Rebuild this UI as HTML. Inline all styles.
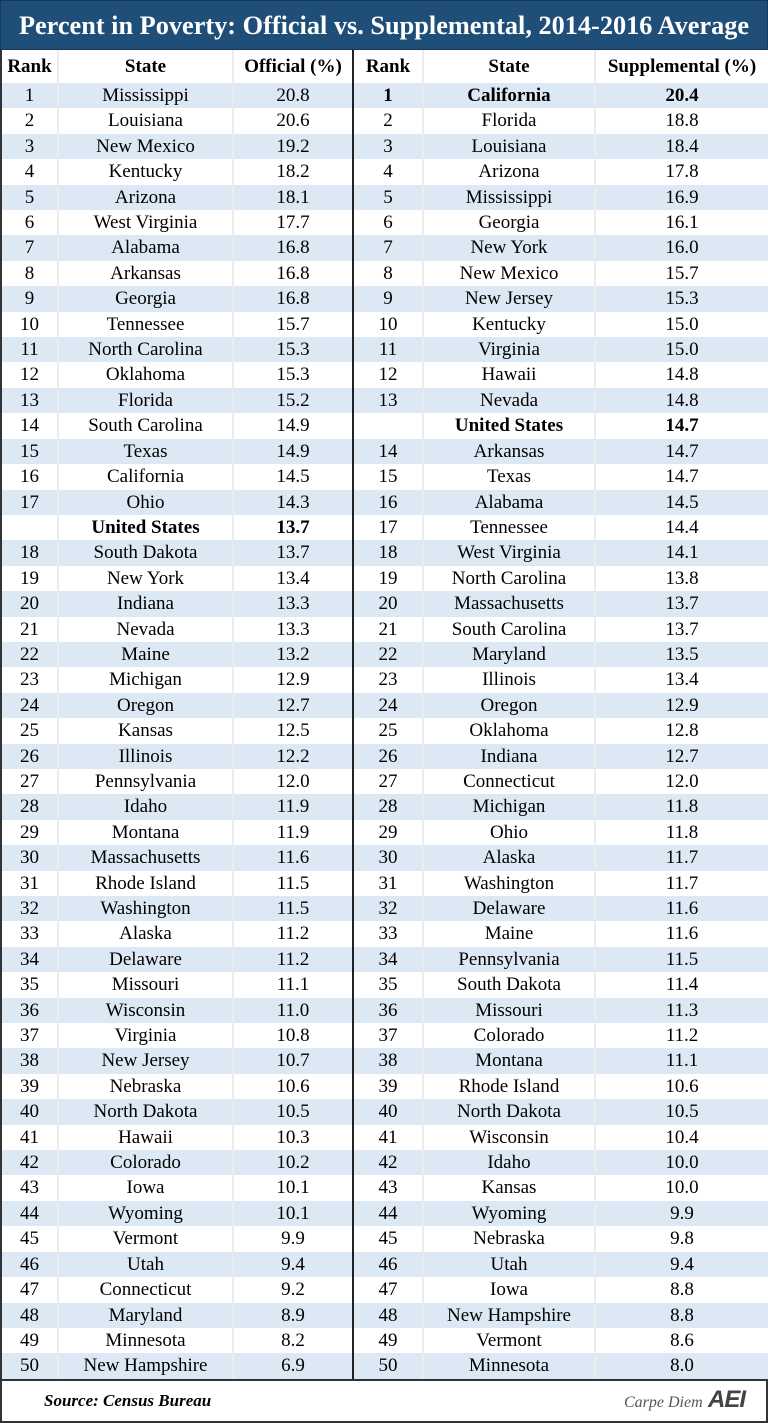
<!DOCTYPE html>
<html><head><meta charset="utf-8"><style>
body{margin:0;width:768px;height:1423px;background:#fff;font-family:"Liberation Serif",serif;overflow:hidden;position:relative}
.title{position:absolute;left:0;top:0;width:766px;height:48px;background:#1f4e79;border:1px solid #16385a;color:#fff;font-weight:bold;font-size:26.3px;text-align:center;line-height:50px;white-space:nowrap}
table{position:absolute;left:0;top:50px;border-collapse:collapse;table-layout:fixed;width:768px;font-size:19px;border-left:2px solid #333;border-right:2px solid #333}
td{padding:0;text-align:center;height:25.4px;line-height:25.4px;border-left:2px solid #ececec;white-space:nowrap;overflow:hidden}
tr.h td{height:33px;line-height:33px;font-weight:bold;font-size:19px}
tr:nth-child(even) td{background:#dce8f4}
td.d{border-left:2px solid #222}
td:first-child{border-left:none}
.b{font-weight:bold}
.foot{position:absolute;left:0;top:1379px;width:764px;height:40px;border:2px solid #333;background:#fff}
.src{position:absolute;left:42px;top:10px;font-style:italic;font-weight:bold;font-size:17px}
.cd{position:absolute;left:622px;top:13px;font-style:italic;font-size:16px;color:#555}
.aei{position:absolute;left:706px;top:5px;font-style:italic;font-weight:bold;font-size:24px;color:#444;font-family:"Liberation Sans",sans-serif;letter-spacing:-1px}
</style></head><body>
<div class="title">Percent in Poverty: Official vs. Supplemental, 2014-2016 Average</div>
<table>
<colgroup><col style="width:57px"><col style="width:175px"><col style="width:120px"><col style="width:70px"><col style="width:172px"><col style="width:174px"></colgroup>
<tr class="h"><td>Rank</td><td>State</td><td>Official (%)</td><td class="d">Rank</td><td>State</td><td>Supplemental (%)</td></tr>
<tr><td>1</td><td>Mississippi</td><td>20.8</td><td class="d b">1</td><td class="b">California</td><td class="b">20.4</td></tr>
<tr><td>2</td><td>Louisiana</td><td>20.6</td><td class="d">2</td><td>Florida</td><td>18.8</td></tr>
<tr><td>3</td><td>New Mexico</td><td>19.2</td><td class="d">3</td><td>Louisiana</td><td>18.4</td></tr>
<tr><td>4</td><td>Kentucky</td><td>18.2</td><td class="d">4</td><td>Arizona</td><td>17.8</td></tr>
<tr><td>5</td><td>Arizona</td><td>18.1</td><td class="d">5</td><td>Mississippi</td><td>16.9</td></tr>
<tr><td>6</td><td>West Virginia</td><td>17.7</td><td class="d">6</td><td>Georgia</td><td>16.1</td></tr>
<tr><td>7</td><td>Alabama</td><td>16.8</td><td class="d">7</td><td>New York</td><td>16.0</td></tr>
<tr><td>8</td><td>Arkansas</td><td>16.8</td><td class="d">8</td><td>New Mexico</td><td>15.7</td></tr>
<tr><td>9</td><td>Georgia</td><td>16.8</td><td class="d">9</td><td>New Jersey</td><td>15.3</td></tr>
<tr><td>10</td><td>Tennessee</td><td>15.7</td><td class="d">10</td><td>Kentucky</td><td>15.0</td></tr>
<tr><td>11</td><td>North Carolina</td><td>15.3</td><td class="d">11</td><td>Virginia</td><td>15.0</td></tr>
<tr><td>12</td><td>Oklahoma</td><td>15.3</td><td class="d">12</td><td>Hawaii</td><td>14.8</td></tr>
<tr><td>13</td><td>Florida</td><td>15.2</td><td class="d">13</td><td>Nevada</td><td>14.8</td></tr>
<tr><td>14</td><td>South Carolina</td><td>14.9</td><td class="d"></td><td class="b">United States</td><td class="b">14.7</td></tr>
<tr><td>15</td><td>Texas</td><td>14.9</td><td class="d">14</td><td>Arkansas</td><td>14.7</td></tr>
<tr><td>16</td><td>California</td><td>14.5</td><td class="d">15</td><td>Texas</td><td>14.7</td></tr>
<tr><td>17</td><td>Ohio</td><td>14.3</td><td class="d">16</td><td>Alabama</td><td>14.5</td></tr>
<tr><td></td><td class="b">United States</td><td class="b">13.7</td><td class="d">17</td><td>Tennessee</td><td>14.4</td></tr>
<tr><td>18</td><td>South Dakota</td><td>13.7</td><td class="d">18</td><td>West Virginia</td><td>14.1</td></tr>
<tr><td>19</td><td>New York</td><td>13.4</td><td class="d">19</td><td>North Carolina</td><td>13.8</td></tr>
<tr><td>20</td><td>Indiana</td><td>13.3</td><td class="d">20</td><td>Massachusetts</td><td>13.7</td></tr>
<tr><td>21</td><td>Nevada</td><td>13.3</td><td class="d">21</td><td>South Carolina</td><td>13.7</td></tr>
<tr><td>22</td><td>Maine</td><td>13.2</td><td class="d">22</td><td>Maryland</td><td>13.5</td></tr>
<tr><td>23</td><td>Michigan</td><td>12.9</td><td class="d">23</td><td>Illinois</td><td>13.4</td></tr>
<tr><td>24</td><td>Oregon</td><td>12.7</td><td class="d">24</td><td>Oregon</td><td>12.9</td></tr>
<tr><td>25</td><td>Kansas</td><td>12.5</td><td class="d">25</td><td>Oklahoma</td><td>12.8</td></tr>
<tr><td>26</td><td>Illinois</td><td>12.2</td><td class="d">26</td><td>Indiana</td><td>12.7</td></tr>
<tr><td>27</td><td>Pennsylvania</td><td>12.0</td><td class="d">27</td><td>Connecticut</td><td>12.0</td></tr>
<tr><td>28</td><td>Idaho</td><td>11.9</td><td class="d">28</td><td>Michigan</td><td>11.8</td></tr>
<tr><td>29</td><td>Montana</td><td>11.9</td><td class="d">29</td><td>Ohio</td><td>11.8</td></tr>
<tr><td>30</td><td>Massachusetts</td><td>11.6</td><td class="d">30</td><td>Alaska</td><td>11.7</td></tr>
<tr><td>31</td><td>Rhode Island</td><td>11.5</td><td class="d">31</td><td>Washington</td><td>11.7</td></tr>
<tr><td>32</td><td>Washington</td><td>11.5</td><td class="d">32</td><td>Delaware</td><td>11.6</td></tr>
<tr><td>33</td><td>Alaska</td><td>11.2</td><td class="d">33</td><td>Maine</td><td>11.6</td></tr>
<tr><td>34</td><td>Delaware</td><td>11.2</td><td class="d">34</td><td>Pennsylvania</td><td>11.5</td></tr>
<tr><td>35</td><td>Missouri</td><td>11.1</td><td class="d">35</td><td>South Dakota</td><td>11.4</td></tr>
<tr><td>36</td><td>Wisconsin</td><td>11.0</td><td class="d">36</td><td>Missouri</td><td>11.3</td></tr>
<tr><td>37</td><td>Virginia</td><td>10.8</td><td class="d">37</td><td>Colorado</td><td>11.2</td></tr>
<tr><td>38</td><td>New Jersey</td><td>10.7</td><td class="d">38</td><td>Montana</td><td>11.1</td></tr>
<tr><td>39</td><td>Nebraska</td><td>10.6</td><td class="d">39</td><td>Rhode Island</td><td>10.6</td></tr>
<tr><td>40</td><td>North Dakota</td><td>10.5</td><td class="d">40</td><td>North Dakota</td><td>10.5</td></tr>
<tr><td>41</td><td>Hawaii</td><td>10.3</td><td class="d">41</td><td>Wisconsin</td><td>10.4</td></tr>
<tr><td>42</td><td>Colorado</td><td>10.2</td><td class="d">42</td><td>Idaho</td><td>10.0</td></tr>
<tr><td>43</td><td>Iowa</td><td>10.1</td><td class="d">43</td><td>Kansas</td><td>10.0</td></tr>
<tr><td>44</td><td>Wyoming</td><td>10.1</td><td class="d">44</td><td>Wyoming</td><td>9.9</td></tr>
<tr><td>45</td><td>Vermont</td><td>9.9</td><td class="d">45</td><td>Nebraska</td><td>9.8</td></tr>
<tr><td>46</td><td>Utah</td><td>9.4</td><td class="d">46</td><td>Utah</td><td>9.4</td></tr>
<tr><td>47</td><td>Connecticut</td><td>9.2</td><td class="d">47</td><td>Iowa</td><td>8.8</td></tr>
<tr><td>48</td><td>Maryland</td><td>8.9</td><td class="d">48</td><td>New Hampshire</td><td>8.8</td></tr>
<tr><td>49</td><td>Minnesota</td><td>8.2</td><td class="d">49</td><td>Vermont</td><td>8.6</td></tr>
<tr><td>50</td><td>New Hampshire</td><td>6.9</td><td class="d">50</td><td>Minnesota</td><td>8.0</td></tr>
</table>
<div class="foot"><span class="src">Source: Census Bureau</span><span class="cd">Carpe Diem</span><span class="aei">AEI</span></div>
</body></html>
